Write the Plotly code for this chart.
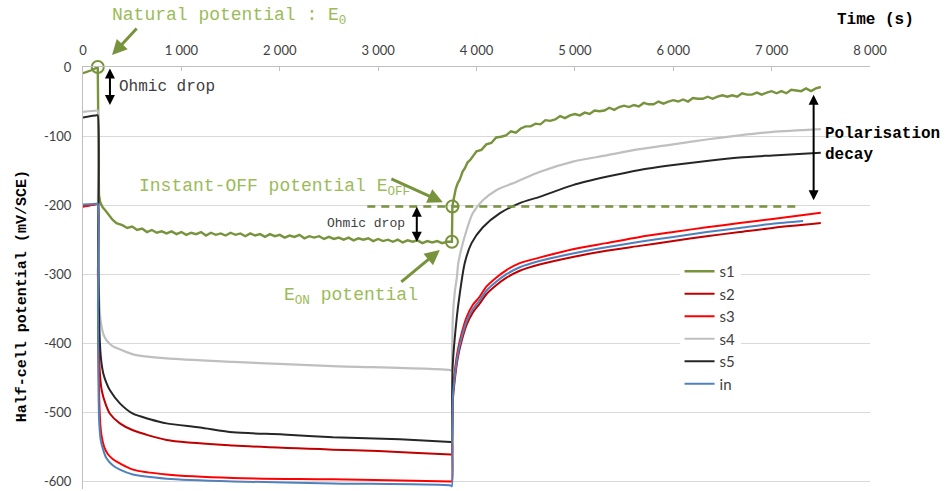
import plotly.graph_objects as go

# ---------------- data ----------------
S1_T = [0, 50, 100, 150, 152, 156, 162, 175, 200, 230, 270, 300, 340, 370,
        400, 450, 500, 550, 600, 650, 700, 750, 800, 850, 900, 950, 1000, 1050, 1100, 1150,
        1200, 1250, 1300, 1350, 1400, 1450, 1500, 1550, 1600, 1650, 1700, 1750, 1800, 1850,
        1900, 1950, 2000, 2050, 2100, 2150, 2200, 2250, 2300, 2350, 2400, 2450, 2500, 2550,
        2600, 2650, 2700, 2750, 2800, 2850, 2900, 2950, 3000, 3050, 3100, 3150, 3200, 3250,
        3300, 3350, 3400, 3450, 3500, 3550, 3600, 3650, 3700,
        3750, 3752, 3755, 3770, 3790, 3810, 3830, 3860, 3880, 3910, 3940, 3970,
        4000, 4050, 4100, 4150, 4200, 4250, 4300, 4350, 4400, 4450, 4500, 4550, 4600, 4650,
        4700, 4750, 4800, 4850, 4900, 4950, 5000, 5050, 5100, 5150, 5200, 5250, 5300, 5350,
        5400, 5450, 5500, 5550, 5600, 5650, 5700, 5750, 5800, 5850, 5900, 5950, 6000, 6050,
        6100, 6150, 6200, 6250, 6300, 6350, 6400, 6450, 6500, 6550, 6600, 6650, 6700, 6750,
        6800, 6850, 6900, 6950, 7000, 7050, 7100, 7150, 7200, 7250, 7300, 7350, 7400, 7450, 7500]
S1_V = [-9, -7, -4, 0, -60, -150, -185, -196, -203, -208, -216, -221, -226, -227,
        -229, -233, -231, -236, -234, -239, -236, -240, -238, -241, -238, -242, -239, -243, -240, -242,
        -239, -244, -240, -243, -241, -244, -240, -243, -241, -245, -241, -244, -242, -246,
        -242, -245, -243, -247, -244, -246, -243, -248, -245, -247, -245, -249, -246, -249,
        -247, -250, -247, -251, -248, -250, -248, -252, -249, -252, -250, -253, -250, -254,
        -251, -253, -251, -255, -252, -254, -252, -255, -253,
        -253, -215, -202, -190, -176, -168, -163, -151, -147, -138, -134, -128,
        -122, -120, -112, -110, -102, -101, -99, -93, -95, -89, -86, -86, -82, -83,
        -77, -78, -76, -71, -74, -70, -68, -70, -66, -68, -63, -64, -63, -59,
        -62, -58, -56, -58, -55, -57, -52, -54, -54, -50, -53, -50, -48, -50,
        -47, -50, -45, -46, -46, -43, -46, -43, -41, -43, -41, -43, -38, -40,
        -40, -37, -40, -37, -35, -38, -35, -38, -33, -34, -35, -31, -35, -31, -29]

S2_T = [0, 140, 150, 152, 160, 170, 190, 230, 274, 375, 508, 850, 1525, 2540, 3000, 3740,
        3750, 3752, 3760, 3780, 3810, 3850, 3900, 3960, 4030, 4100, 4200, 4305, 4440, 4640,
        4980, 5320, 5660, 6000, 6340, 6675, 7010, 7500]
S2_V = [-202, -198.5, -198, -300, -400, -440, -468, -488, -502, -516, -526, -540, -548, -554, -556, -561,
        -561, -530, -482, -452, -421, -396, -373, -356, -343, -329, -316, -305, -295, -286,
        -275, -266, -259, -252, -245, -239, -233, -226]

S3_T = [0, 140, 150, 152, 158, 165, 175, 190, 215, 250, 305, 375, 508, 850, 1525, 2540, 3740,
        3750, 3752, 3760, 3780, 3810, 3850, 3900, 3960, 4030, 4100, 4200, 4305, 4440, 4640,
        4980, 5320, 5660, 6000, 6340, 6675, 7010, 7500]
S3_V = [-202, -198.5, -198, -300, -420, -480, -515, -535, -550, -560, -568, -574, -583, -590, -595, -597, -600,
        -600, -520, -470, -440, -410, -385, -362, -345, -333, -318, -305, -294, -284, -276,
        -264, -255, -246, -239, -232, -226, -220, -211]

S4_T = [0, 140, 150, 152, 158, 165, 180, 210, 240, 300, 343, 508, 850, 1525, 2540, 3740,
        3750, 3752, 3760, 3780, 3800, 3815, 3850, 3900, 3960, 4065, 4205, 4410, 4640,
        4980, 5320, 5660, 6000, 6340, 6675, 7010, 7500]
S4_V = [-65, -63, -63, -200, -300, -340, -368, -388, -396, -404, -407, -416, -422, -427, -433, -439,
        -440, -420, -360, -325, -305, -284, -261, -236, -212, -193, -178, -166, -152,
        -137, -128, -119, -112, -105, -99, -94, -90]

S5_T = [0, 140, 150, 155, 162, 172, 185, 207, 240, 274, 375, 508, 680, 850, 1190, 1525, 2035,
        2540, 3220, 3740, 3750, 3752, 3757, 3800, 3830, 3880, 3950, 4065, 4235, 4440, 4640,
        4980, 5320, 5660, 6000, 6340, 6675, 7010, 7500]
S5_V = [-73, -70, -70, -250, -350, -400, -425, -444, -458, -468, -487, -502, -510, -516, -522, -529, -532,
        -536, -539, -543, -543, -483, -435, -362, -328, -284, -255, -232, -212, -197, -188,
        -171, -159, -149, -142, -136, -131, -128, -124]

IN_T = [0, 140, 150, 152, 158, 165, 180, 207, 237, 305, 375, 508, 850, 1525, 2540, 3740,
        3750, 3752, 3760, 3780, 3810, 3850, 3900, 3960, 4030, 4100, 4200, 4305, 4440, 4640,
        4980, 5320, 5660, 6000, 6340, 6675, 7010, 7320]
IN_V = [-199, -198, -198, -350, -470, -515, -540, -555, -566, -577, -583, -590, -596, -600, -603, -606,
        -607, -530, -478, -447, -416, -391, -368, -351, -338, -324, -311, -300, -290, -281,
        -270, -261, -253, -246, -239, -233, -227, -223]

SERIES_NAMES = ["s1", "s2", "s3", "s4", "s5", "in"]
SERIES_COLORS = ["#77933c", "#c00000", "#ff0000", "#bfbfbf", "#262626", "#4f81bd"]

X_TICKS = [0, 1000, 2000, 3000, 4000, 5000, 6000, 7000, 8000]
X_TICK_TEXT = ["0", "1 000", "2 000", "3 000", "4 000", "5 000", "6 000", "7 000", "8 000"]
Y_TICKS = [0, -100, -200, -300, -400, -500, -600]
Y_TICK_TEXT = ["0", "-100", "-200", "-300", "-400", "-500", "-600"]

# key points of s1 (looked up in S1_T / S1_V)
E0_T = 150
EON_T = 3750
EOFF_T = 3755
DASH_T = [2890, 7265]

for t, v in [(S1_T, S1_V), (S2_T, S2_V), (S3_T, S3_V), (S4_T, S4_V), (S5_T, S5_V), (IN_T, IN_V)]:
    assert len(t) == len(v), (len(t), len(v))

# ---------------- figure ----------------
GREEN = "#77933c"
GREEN_TXT = "#9bbb59"
MONO = "Liberation Mono"
SANS = "Lato"

fig = go.Figure()
data = [(S1_T, S1_V), (S2_T, S2_V), (S3_T, S3_V), (S4_T, S4_V), (S5_T, S5_V), (IN_T, IN_V)]
widths = [2.4, 2, 2, 2.2, 2, 2]
shapes_ = ["linear", "spline", "spline", "spline", "spline", "spline"]
for (t, v), name, col, w, sh in zip(data, SERIES_NAMES, SERIES_COLORS, widths, shapes_):
    fig.add_trace(go.Scatter(x=t, y=v, mode="lines", name=name,
                             line=dict(color=col, width=w, shape=sh, smoothing=0.7)))

e0_v = S1_V[S1_T.index(E0_T)]
eon_v = S1_V[S1_T.index(EON_T)]
eoff_v = S1_V[S1_T.index(EOFF_T)]

# dashed E_OFF level
fig.add_trace(go.Scatter(x=DASH_T, y=[eoff_v, eoff_v], mode="lines", showlegend=False,
                         line=dict(color=GREEN, width=2.5, dash="8px,6px")))
# circles
fig.add_trace(go.Scatter(x=[E0_T, EOFF_T, EON_T], y=[e0_v, eoff_v, eon_v], mode="markers",
                         showlegend=False, cliponaxis=False,
                         marker=dict(symbol="circle-open", size=12,
                                     line=dict(color=GREEN, width=2), color=GREEN)))

ann = []
# green labels
ann.append(dict(x=0.0343, y=1.1185, xref="paper", yref="paper", text="Natural potential : E<sub>0</sub>",
                showarrow=False, xanchor="left", yanchor="middle",
                font=dict(family=MONO, size=18, color=GREEN_TXT)))
ann.append(dict(x=549, y=-175, xref="x", yref="y", text="Instant-OFF potential E<sub>OFF</sub>",
                showarrow=False, xanchor="left", yanchor="middle",
                font=dict(family=MONO, size=18, color=GREEN_TXT)))
ann.append(dict(x=2022, y=-333, xref="x", yref="y", text="E<sub>ON</sub> potential",
                showarrow=False, xanchor="left", yanchor="middle",
                font=dict(family=MONO, size=18, color=GREEN_TXT)))
# green arrows
ann.append(dict(x=0.0369, y=1.0284, xref="paper", yref="paper", ax=26, ay=-28, text="",
                showarrow=True, arrowhead=2, arrowsize=1, arrowwidth=3, arrowcolor=GREEN))
for hx, hy, ax, ay in [(3658, -195.7, -53, -24), (3627, -265, -40, 33)]:
    ann.append(dict(x=hx, y=hy, xref="x", yref="y", ax=ax, ay=ay, text="", showarrow=True,
                    arrowhead=2, arrowsize=1, arrowwidth=3, arrowcolor=GREEN))
# black double arrows
for x0, y0, y1 in [(274, 0, -55), (3393, -200, -253), (7427, -38, -193)]:
    ann.append(dict(x=x0, y=y1, xref="x", yref="y", ax=x0, ay=y0, axref="x", ayref="y",
                    text="", showarrow=True, arrowhead=2, startarrowhead=2, arrowside="end+start",
                    arrowsize=1, arrowwidth=2, arrowcolor="#000000"))
# black labels
ann.append(dict(x=345, y=-29, xref="x", yref="y", text="Ohmic drop", showarrow=False,
                xanchor="left", yanchor="middle", font=dict(family=MONO, size=16, color="#404040")))
ann.append(dict(x=2880, y=-226, xref="x", yref="y", text="Ohmic drop", showarrow=False,
                xanchor="center", yanchor="middle", font=dict(family=MONO, size=13, color="#404040")))
ann.append(dict(x=7520, y=-112, xref="x", yref="y", text="<b>Polarisation<br>decay</b>",
                showarrow=False, xanchor="left", yanchor="middle", align="left",
                font=dict(family=MONO, size=16, color="#000000")))
# axis titles
ann.append(dict(x=0.9555, y=1.111, xref="paper", yref="paper", text="<b>Time (s)</b>",
                showarrow=False, xanchor="left", yanchor="middle",
                font=dict(family=MONO, size=16, color="#000000")))
ann.append(dict(x=-0.0775, y=0.457, xref="paper", yref="paper",
                text="<b>Half-cell potential (mV/SCE)</b>", textangle=-90,
                showarrow=False, xanchor="center", yanchor="middle",
                font=dict(family=MONO, size=15, color="#000000")))

fig.update_layout(
    width=951, height=491,
    margin=dict(l=83, r=81, t=67, b=2),
    paper_bgcolor="white", plot_bgcolor="white",
    annotations=ann,
    showlegend=True,
    legend=dict(x=0.758, y=0.5545, xanchor="left", yanchor="top", bgcolor="white",
                font=dict(family=SANS, size=15, color="#404040"), borderwidth=0),
    xaxis=dict(range=[0, 8000], side="top", tickvals=X_TICKS, ticktext=X_TICK_TEXT,
               showgrid=False, zeroline=False, showline=True, linecolor="#bfbfbf", linewidth=1,
               ticks="inside", ticklen=4, tickcolor="#bfbfbf", ticklabelstandoff=6,
               tickfont=dict(family=SANS, size=13, color="#404040")),
    yaxis=dict(range=[-611, 0], tickvals=Y_TICKS, ticktext=Y_TICK_TEXT,
               showgrid=True, gridcolor="#d9d9d9", gridwidth=1, zeroline=False,
               showline=True, linecolor="#bfbfbf", linewidth=1, ticks="", ticklabelstandoff=8,
               tickfont=dict(family=SANS, size=13, color="#404040")),
)

fig.write_html("out.html")
